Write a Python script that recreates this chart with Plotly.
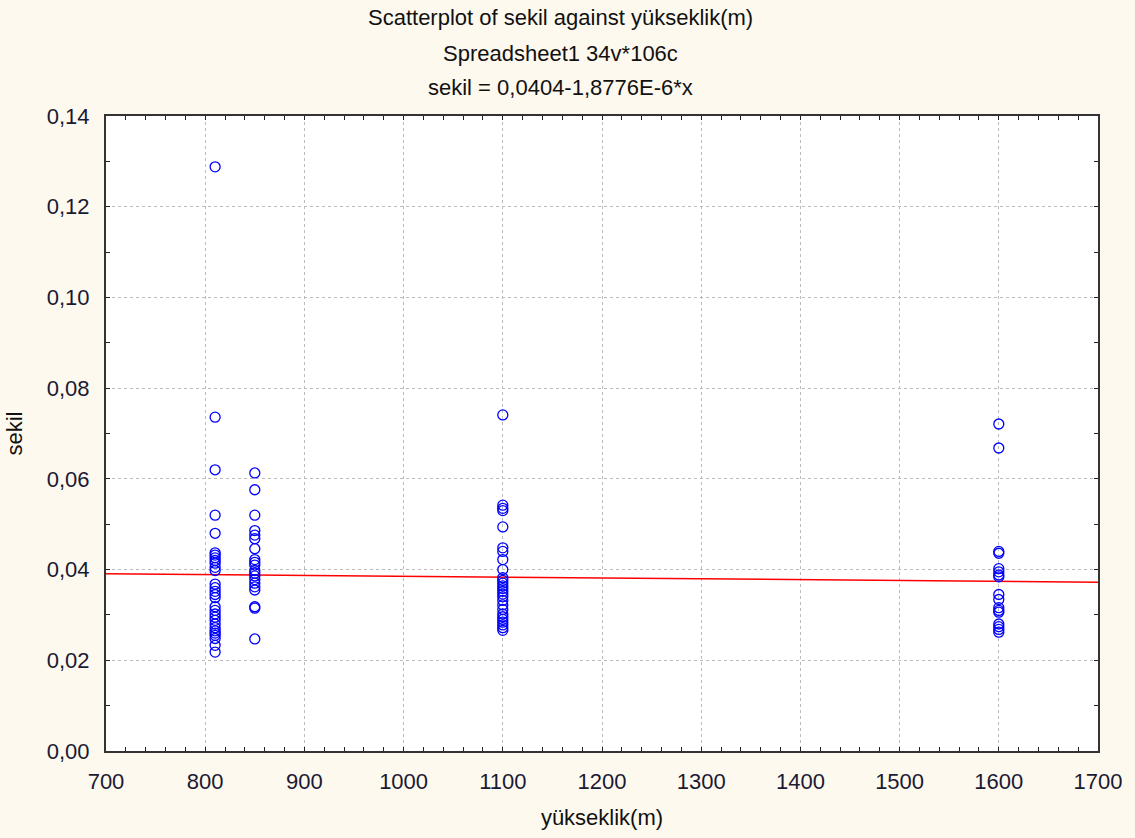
import plotly.graph_objects as go

# ---- data ----
altitudes = [810, 850, 1100, 1600]
sekil_810 = [0.1288, 0.0736, 0.0620, 0.0520, 0.0480, 0.0437, 0.0432, 0.0426, 0.0420,
             0.0414, 0.0405, 0.0398, 0.0368, 0.0360, 0.0352, 0.0345, 0.0338, 0.0318,
             0.0310, 0.0302, 0.0295, 0.0288, 0.0280, 0.0272, 0.0265, 0.0260, 0.0255,
             0.0248, 0.0233, 0.0218]
sekil_850 = [0.0613, 0.0576, 0.0520, 0.0486, 0.0476, 0.0468, 0.0446, 0.0422, 0.0416,
             0.0410, 0.0398, 0.0392, 0.0386, 0.0378, 0.0370, 0.0362, 0.0355, 0.0318,
             0.0315, 0.0247]
sekil_1100 = [0.0741, 0.0542, 0.0535, 0.0530, 0.0494, 0.0448, 0.0440, 0.0422, 0.0400,
              0.0382, 0.0376, 0.0370, 0.0364, 0.0358, 0.0352, 0.0346, 0.0340, 0.0332,
              0.0322, 0.0312, 0.0302, 0.0296, 0.0290, 0.0284, 0.0278, 0.0272, 0.0266]
sekil_1600 = [0.0721, 0.0668, 0.0440, 0.0436, 0.0402, 0.0395, 0.0388, 0.0384, 0.0345,
              0.0334, 0.0316, 0.0310, 0.0306, 0.0280, 0.0274, 0.0268, 0.0262]
groups = [sekil_810, sekil_850, sekil_1100, sekil_1600]

intercept = 0.0404
slope = -1.8776e-6
x_range = [700, 1700]
y_range = [0, 0.14]
x_ticks = [700, 800, 900, 1000, 1100, 1200, 1300, 1400, 1500, 1600, 1700]
y_ticks = [0.00, 0.02, 0.04, 0.06, 0.08, 0.10, 0.12, 0.14]
y_tick_labels = ["0,00", "0,02", "0,04", "0,06", "0,08", "0,10", "0,12", "0,14"]
title_lines = ["Scatterplot of sekil against yükseklik(m)",
               "Spreadsheet1 34v*106c",
               "sekil = 0,0404-1,8776E-6*x"]

xs, ys = [], []
for a, g in zip(altitudes, groups):
    xs += [a] * len(g)
    ys += g

line_x = x_range
line_y = [intercept + slope * v for v in line_x]

FONT = "Liberation Sans"
FS = 22
fig = go.Figure()
fig.add_trace(go.Scatter(x=line_x, y=line_y, mode="lines",
                         line=dict(color="#FF0000", width=1.5), hoverinfo="skip"))
fig.add_trace(go.Scatter(x=xs, y=ys, mode="markers",
                         marker=dict(symbol="circle-open", size=10, color="#0000FF",
                                     line=dict(width=1.3, color="#0000FF"))))

axis_common = dict(showline=True, linecolor="#333333", linewidth=2, mirror="ticks",
                   ticks="inside", ticklen=4, tickcolor="#222222", tickwidth=1,
                   showgrid=True, gridcolor="#BBBBBB", griddash="dot", gridwidth=1,
                   zeroline=False, tickfont=dict(family=FONT, size=FS, color="#1a1a33"))

fig.update_layout(
    width=1135, height=838,
    margin=dict(l=106, r=37, t=116, b=85),
    paper_bgcolor="#FEF9EE", plot_bgcolor="#FFFFFF",
    showlegend=False,
    font=dict(family=FONT, color="#111111"),
    xaxis=dict(range=x_range, tickvals=x_ticks, ticktext=[str(v) for v in x_ticks],
               ticklabelstandoff=10,
               minor=dict(dtick=20, ticks="inside", ticklen=4, tickcolor="#222222", showgrid=False),
               title=dict(text="yükseklik(m)", font=dict(family=FONT, size=FS), standoff=16),
               **axis_common),
    yaxis=dict(range=y_range, tickvals=y_ticks, ticktext=y_tick_labels,
               ticklabelstandoff=10,
               minor=dict(dtick=0.01, ticks="inside", ticklen=4, tickcolor="#222222", showgrid=False),
               title=dict(text="sekil", font=dict(family=FONT, size=FS), standoff=18),
               **axis_common),
)

title_y_px = [17, 53, 87]
plot_h = 838 - 116 - 85
for txt, ypx in zip(title_lines, title_y_px):
    fig.add_annotation(text=txt, xref="paper", yref="paper",
                       x=(560 - 106) / (1135 - 106 - 37), xanchor="center",
                       y=(838 - 85 - ypx) / plot_h, yanchor="middle",
                       showarrow=False, font=dict(family=FONT, size=FS, color="#111111"))

fig.write_html("out.html")
